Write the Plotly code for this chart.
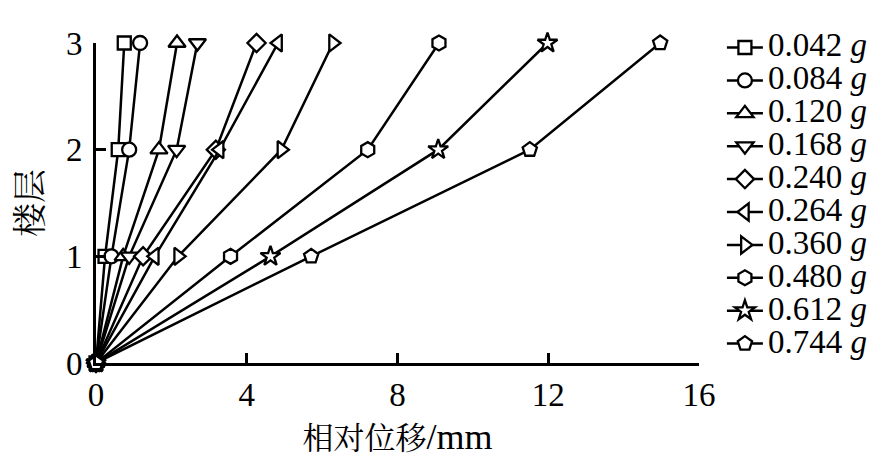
import plotly.graph_objects as go

floors = [0, 1, 2, 3]
labels = ["0.042", "0.084", "0.120", "0.168", "0.240", "0.264", "0.360", "0.480", "0.612", "0.744"]
disp_0042 = [0, 0.24, 0.59, 0.75]
disp_0084 = [0, 0.41, 0.88, 1.17]
disp_0120 = [0, 0.72, 1.67, 2.15]
disp_0168 = [0, 0.88, 2.14, 2.69]
disp_0240 = [0, 1.25, 3.18, 4.26]
disp_0264 = [0, 1.56, 3.28, 4.83]
disp_0360 = [0, 2.18, 4.92, 6.29]
disp_0480 = [0, 3.57, 7.21, 9.10]
disp_0612 = [0, 4.63, 9.08, 11.98]
disp_0744 = [0, 5.71, 11.51, 14.97]
series = [disp_0042, disp_0084, disp_0120, disp_0168, disp_0240,
          disp_0264, disp_0360, disp_0480, disp_0612, disp_0744]
symbols = ["square", "circle", "triangle-up", "triangle-down", "diamond",
           "triangle-left", "triangle-right", "hexagon", "star", "pentagon"]
sizes = [13, 14, 15, 15, 14, 15, 15, 15, 15, 15]

serif = "Liberation Serif"
cjk = "Noto Serif CJK SC"

fig = go.Figure()
for lab, xs, sym, sz in zip(labels, series, symbols, sizes):
    fig.add_trace(go.Scatter(
        x=xs, y=floors, mode="lines+markers",
        name='<span style="font-family:Liberation Serif;font-size:33px">' + lab + ' <i>g</i></span>',
        line=dict(color="black", width=2.5),
        marker=dict(symbol=sym, size=sz, color="white",
                    line=dict(color="black", width=2.3)),
        cliponaxis=False,
    ))

fig.update_layout(
    width=887, height=467,
    margin=dict(l=96, r=188, t=43, b=104),
    plot_bgcolor="white", paper_bgcolor="white",
    font=dict(family=serif, color="black", size=33),
    showlegend=True,
    legend=dict(x=1.038, xanchor="left", y=1.053, yanchor="top",
                font=dict(family=serif, size=23, color="black"),
                bgcolor="rgba(0,0,0,0)", borderwidth=0,
                tracegroupgap=0, itemwidth=36, maxheight=460),
    xaxis=dict(range=[0, 16], tickmode="linear", tick0=0, dtick=4,
               ticks="inside", ticklen=10, tickwidth=2.5, tickcolor="black",
               showline=True, linewidth=3, linecolor="black",
               showgrid=False, zeroline=False, automargin=False,
               tickfont=dict(family=serif, size=33, color="black"),
               title=dict(text='相对位移<span style="font-family:Liberation Serif;font-size:36px">/mm</span>',
                          standoff=0,
                          font=dict(family=cjk, size=31, color="black"))),
    yaxis=dict(range=[0, 3], tickmode="linear", tick0=0, dtick=1,
               ticks="inside", ticklen=10, tickwidth=2.5, tickcolor="black",
               showline=True, linewidth=3, linecolor="black",
               showgrid=False, zeroline=False, automargin=False,
               ticklabelstandoff=4,
               tickfont=dict(family=serif, size=33, color="black"),
               title=dict(text="楼层", standoff=14,
                          font=dict(family=cjk, size=34, color="black"))),
)

fig.write_html("out.html", config={"displayModeBar": False},
               post_script="document.body.style.margin='0';")
